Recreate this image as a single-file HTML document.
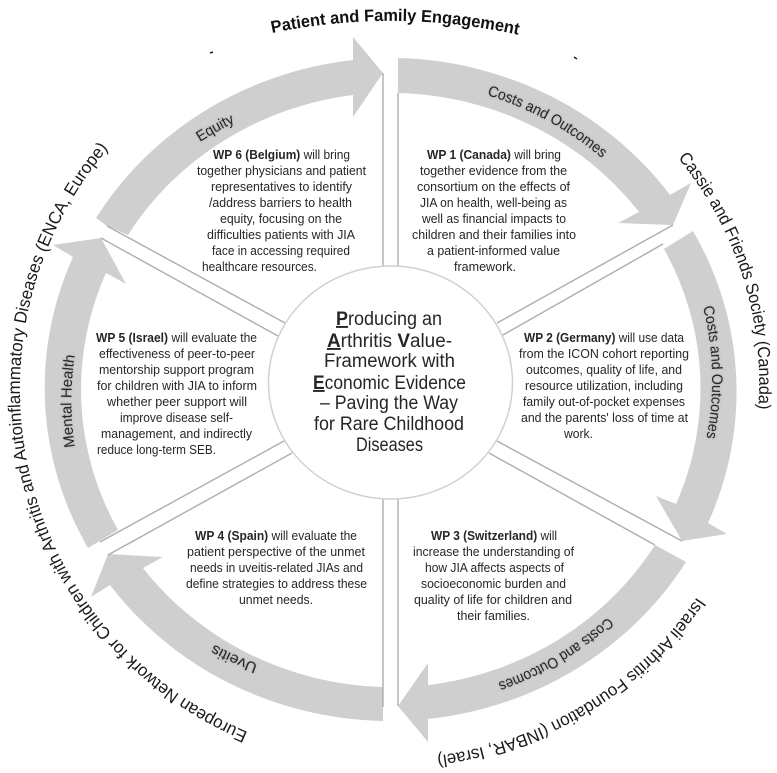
<!DOCTYPE html>
<html><head><meta charset="utf-8"><style>
html,body{margin:0;padding:0;background:#fff;width:777px;height:773px;overflow:hidden}
svg{display:block;filter:blur(0.3px)}
text{font-family:"Liberation Sans",sans-serif}
.b text{font-size:13px;fill:#262626}
.c text{font-size:19px;fill:#262626}
.o{font-size:17.5px;fill:#1a1a1a}
.l{font-size:15px;fill:#262626;filter:drop-shadow(0 0 1px #a0a0a0)}
</style></head><body>
<svg width="777" height="773" viewBox="0 0 777 773" xmlns="http://www.w3.org/2000/svg">
<defs>
<path id="p0" d="M272 33 A590 590 0 0 1 519 35"/>
<path id="p1" d="M678 158 A369 360 0 0 1 758 412"/>
<path id="p2" d="M697 597 A369 360 0 0 1 434 756"/>
<path id="p3" d="M248 732 A372 372 0 0 1 112 144"/>
<path id="l1" d="M487 95 A325 310 0 0 1 603 159"/>
<path id="l2" d="M703 307 A325 310 0 0 1 706 440"/>
<path id="l3" d="M608 617 A325 310 0 0 1 497 683"/>
<path id="l4" d="M258 664 A325 310 0 0 1 213 644"/>
<path id="l5" d="M75 447 A320 310 0 0 1 75 354"/>
<path id="l6" d="M200 142 A320 310 0 0 1 236 122"/>
</defs>
<g fill="#cfcfcf">
<path d="M398 58 A347 331 0 0 1 670 195 L691 183 L673 225 L618 223 L639 212 A311 297 0 0 0 398 93 Z"/>
<path d="M693 231 A347 331 0 0 1 708 523 L727 534 L682 541 L656 496 L676 504 A311 297 0 0 0 664 249 Z"/>
<path d="M686 562 A347 331 0 0 1 428 719 L428 742 L398 706 L428 663 L428 685 A311 297 0 0 0 655 545 Z"/>
<path d="M383 721 A347 331 0 0 1 110 585 L91 597 L108 554 L163 557 L143 568 A311 297 0 0 0 383 687 Z"/>
<path d="M88 548 A347 331 0 0 1 73 257 L53 245 L101 238 L126 284 L106 273 A311 297 0 0 0 118 530 Z"/>
<path d="M96 218 A347 331 0 0 1 353 60 L353 37 L383 73 L353 117 L353 95 A311 297 0 0 0 128 235 L107 226 Z"/>
</g>
<g stroke="#adadad" stroke-width="1.4" fill="none">
<path d="M383 73V266M398 93V266M383 499V707M398 499V706"/>
<path d="M673 225L497 323M663 244L503 335"/>
<path d="M497 441L682 541M489 453L655 545"/>
<path d="M100 542L284 441M108 555L292 453"/>
<path d="M107 226L285 323M101 238L278 336"/>
</g>
<ellipse cx="390.5" cy="382.5" rx="122" ry="116.5" fill="#fff" stroke="#d0d0d0" stroke-width="1.5"/>
<path d="M574 57L577 59M210 53L213 52" stroke="#222" stroke-width="1.5"/>

<text font-weight="bold" style="font-size:17px;fill:#111"><textPath href="#p0" textLength="248" lengthAdjust="spacingAndGlyphs">Patient and Family Engagement</textPath></text>
<text class="o"><textPath href="#p1" textLength="270" lengthAdjust="spacingAndGlyphs">Cassie and Friends Society (Canada)</textPath></text>
<text class="o"><textPath href="#p2" textLength="314" lengthAdjust="spacingAndGlyphs">Israeli Arthritis Foundation (INBAR, Israel)</textPath></text>
<text class="o"><textPath href="#p3" textLength="698" lengthAdjust="spacingAndGlyphs">European Network for Children with Arthritis and Autoinflammatory Diseases (ENCA, Europe)</textPath></text>

<text class="l"><textPath href="#l1" textLength="132" lengthAdjust="spacingAndGlyphs">Costs and Outcomes</textPath></text>
<text class="l"><textPath href="#l2" textLength="132" lengthAdjust="spacingAndGlyphs">Costs and Outcomes</textPath></text>
<text class="l"><textPath href="#l3" textLength="129" lengthAdjust="spacingAndGlyphs">Costs and Outcomes</textPath></text>
<text class="l"><textPath href="#l4" textLength="48" lengthAdjust="spacingAndGlyphs">Uveitis</textPath></text>
<text class="l"><textPath href="#l5" textLength="92" lengthAdjust="spacingAndGlyphs">Mental Health</textPath></text>
<text class="l"><textPath href="#l6" textLength="40" lengthAdjust="spacingAndGlyphs">Equity</textPath></text>

<g class="c" text-anchor="start">
<text x="336" y="325" textLength="106" lengthAdjust="spacingAndGlyphs"><tspan font-weight="bold" text-decoration="underline">P</tspan>roducing an</text>
<text x="327" y="347" textLength="125" lengthAdjust="spacingAndGlyphs"><tspan font-weight="bold" text-decoration="underline">A</tspan>rthritis <tspan font-weight="bold">V</tspan>alue-</text>
<text x="324" y="367" textLength="131" lengthAdjust="spacingAndGlyphs">Framework with</text>
<text x="313" y="389" textLength="153" lengthAdjust="spacingAndGlyphs"><tspan font-weight="bold" text-decoration="underline">E</tspan>conomic Evidence</text>
<text x="320" y="409" textLength="138" lengthAdjust="spacingAndGlyphs">– Paving the Way</text>
<text x="314" y="430" textLength="150" lengthAdjust="spacingAndGlyphs">for Rare Childhood</text>
<text x="356" y="451" textLength="67" lengthAdjust="spacingAndGlyphs">Diseases</text>
</g>

<g class="b">
<text x="427" y="159" textLength="134" lengthAdjust="spacingAndGlyphs"><tspan font-weight="bold">WP 1 (Canada)</tspan> will bring</text>
<text x="420" y="175" textLength="147" lengthAdjust="spacingAndGlyphs">together evidence from the</text>
<text x="417" y="191" textLength="153" lengthAdjust="spacingAndGlyphs">consortium on the effects of</text>
<text x="420" y="207" textLength="147" lengthAdjust="spacingAndGlyphs">JIA on health, well-being as</text>
<text x="422" y="223" textLength="144" lengthAdjust="spacingAndGlyphs">well as financial impacts to</text>
<text x="412" y="239" textLength="164" lengthAdjust="spacingAndGlyphs">children and their families into</text>
<text x="427" y="255" textLength="133" lengthAdjust="spacingAndGlyphs">a patient-informed value</text>
<text x="454" y="271" textLength="62" lengthAdjust="spacingAndGlyphs">framework.</text>

<text x="524" y="342" textLength="160" lengthAdjust="spacingAndGlyphs"><tspan font-weight="bold">WP 2 (Germany)</tspan> will use data</text>
<text x="519" y="358" textLength="170" lengthAdjust="spacingAndGlyphs">from the ICON cohort reporting</text>
<text x="526" y="374" textLength="156" lengthAdjust="spacingAndGlyphs">outcomes, quality of life, and</text>
<text x="525" y="390" textLength="158" lengthAdjust="spacingAndGlyphs">resource utilization, including</text>
<text x="523" y="406" textLength="162" lengthAdjust="spacingAndGlyphs">family out-of-pocket expenses</text>
<text x="521" y="422" textLength="167" lengthAdjust="spacingAndGlyphs">and the parents' loss of time at</text>
<text x="564" y="438" textLength="29" lengthAdjust="spacingAndGlyphs">work.</text>

<text x="431" y="540" textLength="126" lengthAdjust="spacingAndGlyphs"><tspan font-weight="bold">WP 3 (Switzerland)</tspan> will</text>
<text x="413" y="556" textLength="161" lengthAdjust="spacingAndGlyphs">increase the understanding of</text>
<text x="425" y="572" textLength="139" lengthAdjust="spacingAndGlyphs">how JIA affects aspects of</text>
<text x="421" y="588" textLength="145" lengthAdjust="spacingAndGlyphs">socioeconomic burden and</text>
<text x="414" y="604" textLength="158" lengthAdjust="spacingAndGlyphs">quality of life for children and</text>
<text x="457" y="620" textLength="73" lengthAdjust="spacingAndGlyphs">their families.</text>

<text x="195" y="540" textLength="162" lengthAdjust="spacingAndGlyphs"><tspan font-weight="bold">WP 4 (Spain)</tspan> will evaluate the</text>
<text x="187" y="556" textLength="178" lengthAdjust="spacingAndGlyphs">patient perspective of the unmet</text>
<text x="190" y="572" textLength="173" lengthAdjust="spacingAndGlyphs">needs in uveitis-related JIAs and</text>
<text x="186" y="588" textLength="181" lengthAdjust="spacingAndGlyphs">define strategies to address these</text>
<text x="239" y="604" textLength="74" lengthAdjust="spacingAndGlyphs">unmet needs.</text>

<text x="96" y="342" textLength="161" lengthAdjust="spacingAndGlyphs"><tspan font-weight="bold">WP 5 (Israel)</tspan> will evaluate the</text>
<text x="99" y="358" textLength="156" lengthAdjust="spacingAndGlyphs">effectiveness of peer-to-peer</text>
<text x="99" y="374" textLength="155" lengthAdjust="spacingAndGlyphs">mentorship support program</text>
<text x="97" y="390" textLength="160" lengthAdjust="spacingAndGlyphs">for children with JIA to inform</text>
<text x="107" y="406" textLength="140" lengthAdjust="spacingAndGlyphs">whether peer support will</text>
<text x="120" y="422" textLength="113" lengthAdjust="spacingAndGlyphs">improve disease self-</text>
<text x="101" y="438" textLength="151" lengthAdjust="spacingAndGlyphs">management, and indirectly</text>
<text x="97" y="454" textLength="119" lengthAdjust="spacingAndGlyphs">reduce long-term SEB.</text>

<text x="213" y="159" textLength="137" lengthAdjust="spacingAndGlyphs"><tspan font-weight="bold">WP 6 (Belgium)</tspan> will bring</text>
<text x="197" y="175" textLength="169" lengthAdjust="spacingAndGlyphs">together physicians and patient</text>
<text x="211" y="191" textLength="141" lengthAdjust="spacingAndGlyphs">representatives to identify</text>
<text x="209" y="207" textLength="143" lengthAdjust="spacingAndGlyphs">/address barriers to health</text>
<text x="220" y="223" textLength="122" lengthAdjust="spacingAndGlyphs">equity, focusing on the</text>
<text x="207" y="239" textLength="148" lengthAdjust="spacingAndGlyphs">difficulties patients with JIA</text>
<text x="212" y="255" textLength="138" lengthAdjust="spacingAndGlyphs">face in accessing required</text>
<text x="202" y="271" textLength="115" lengthAdjust="spacingAndGlyphs">healthcare resources.</text>
</g>
</svg>
</body></html>
